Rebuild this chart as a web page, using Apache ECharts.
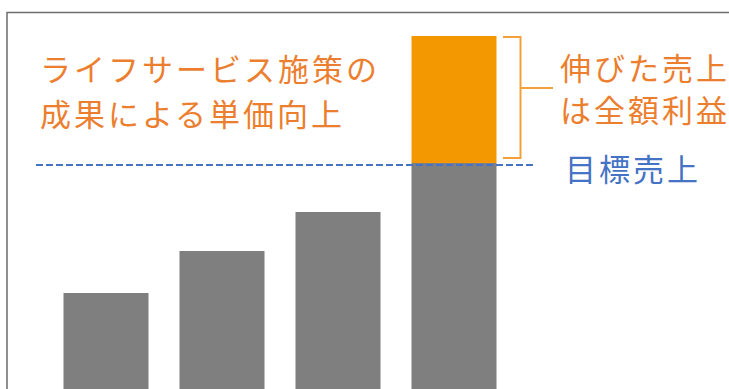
<!DOCTYPE html>
<html>
<head>
<meta charset="utf-8">
<script src="https://cdn.jsdelivr.net/npm/echarts@6/dist/echarts.min.js"></script>
<style>
  html, body { margin: 0; padding: 0; background: #fff; }
  #chart { width: 729px; height: 389px; }
  #chart text { letter-spacing: 3px; }
</style>
</head>
<body>
<div id="chart"></div>
<script>
const categories = ['1', '2', '3', '4'];
const baseValues = [96, 138, 177, 226];
const growthValues = [0, 0, 0, 127];
const targetValue = 224;
const leftLabel = 'ライフサービス施策の\n成果による単価向上';
const rightLabel = '伸びた売上\nは全額利益';
const targetLabel = '目標売上';

const FONT = '"Noto Sans CJK JP", "Noto Sans", sans-serif';
const ORANGE_TEXT = '#EC7F2F';
const ORANGE_BAR = '#F39800';
const BLUE = '#4472C4';

const chart = echarts.init(document.getElementById('chart'), null, { renderer: 'svg' });

chart.setOption({
  animation: false,
  backgroundColor: '#fff',
  grid: { left: 48, right: 217, top: 36, bottom: 0 },
  xAxis: { type: 'category', data: categories, show: false },
  yAxis: { type: 'value', min: 0, max: 353, show: false },
  series: [
    { name: 'base', type: 'bar', stack: 's', data: baseValues, barWidth: 85,
      itemStyle: { color: '#7F7F7F' } },
    { name: 'growth', type: 'bar', stack: 's', data: growthValues, barWidth: 85,
      itemStyle: { color: ORANGE_BAR } }
  ]
});

const yTarget = chart.convertToPixel({ yAxisIndex: 0 }, targetValue);
const yTop = chart.convertToPixel({ yAxisIndex: 0 }, baseValues[3] + growthValues[3]);
const yBase = chart.convertToPixel({ yAxisIndex: 0 }, baseValues[3]);

chart.setOption({
  series: [{
    name: 'base',
    markLine: {
      silent: true,
      symbol: 'none',
      label: { show: false },
      lineStyle: { color: BLUE, width: 2, type: [7, 3] },
      data: [[{ x: 36, y: yTarget }, { x: 533, y: yTarget }]]
    }
  }],
  graphic: [
    { type: 'polyline', shape: { points: [[7, 389], [7, 12.5], [729, 12.5]] },
      style: { stroke: '#6E6E6E', lineWidth: 1.5, fill: null } },
    { type: 'polyline', shape: { points: [[503, yTop + 1], [520.5, yTop + 1], [520.5, yBase - 5], [503, yBase - 5]] },
      style: { stroke: '#F3A03A', lineWidth: 2, fill: null } },
    { type: 'line', shape: { x1: 520.5, y1: 88, x2: 553, y2: 88 },
      style: { stroke: '#F3A03A', lineWidth: 2 } },
    { type: 'text', x: 40, y: 44.5,
      style: { text: leftLabel, fill: ORANGE_TEXT, font: '31px ' + FONT, lineHeight: 45,
               verticalAlign: 'top' } },
    { type: 'text', x: 560, y: 45,
      style: { text: rightLabel, fill: ORANGE_TEXT, font: '31px ' + FONT, lineHeight: 42,
               verticalAlign: 'top' } },
    { type: 'text', x: 565, y: 167,
      style: { text: targetLabel, fill: BLUE, font: '31px ' + FONT,
               verticalAlign: 'middle' } }
  ]
});
</script>
</body>
</html>
